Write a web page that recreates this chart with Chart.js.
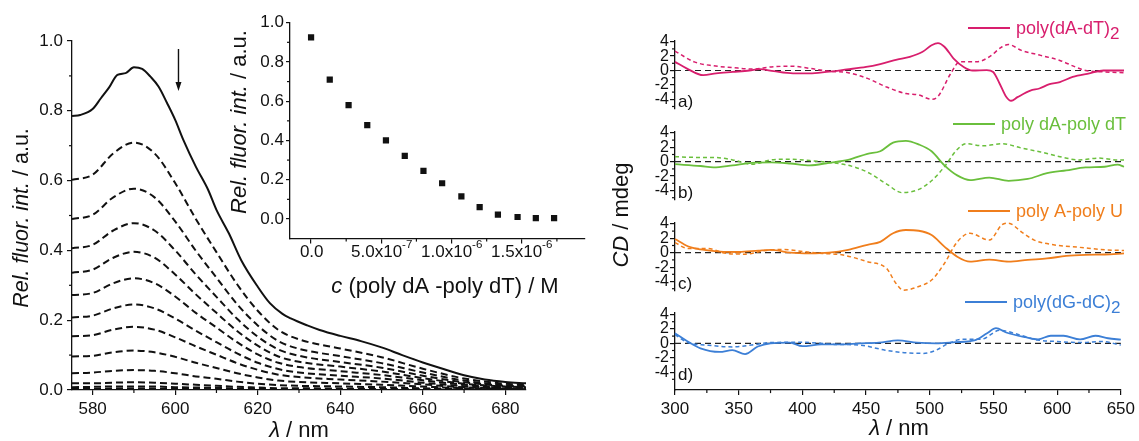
<!DOCTYPE html>
<html>
<head>
<meta charset="utf-8">
<title>Fluorescence titration and CD spectra</title>
<script src="https://cdn.jsdelivr.net/npm/chart.js@4.4.1/dist/chart.umd.min.js"></script>
<style>
    html, body {margin: 0; padding: 0; background: #fff;}
    #wrap {position: relative; width: 1139px; height: 441px; overflow: hidden;}
    #wrap canvas {position: absolute; left: 0; top: 0;}
</style>
</head>
<body>
<div id="wrap">
    <canvas id="cMain" width="1139" height="441"></canvas>
    <canvas id="cInset" width="1139" height="441"></canvas>
    <canvas id="cdA" width="1139" height="441"></canvas>
    <canvas id="cdB" width="1139" height="441"></canvas>
    <canvas id="cdC" width="1139" height="441"></canvas>
    <canvas id="cdD" width="1139" height="441"></canvas>
</div>
<script>
// MODULE'S VARS
const W = 1139, H = 441;
const FONT = '"Liberation Sans", Arial, Helvetica, sans-serif';
const INK = '#111';
const MAGENTA = '#d81e6d';
const GREEN = '#6abf3c';
const ORANGE = '#f07e1c';
const BLUE = '#3c7fd6';

// fluorescence spectra (left panel), first one is the free dye (solid)
const solidWl = [575, 577, 580, 582, 584, 586, 588, 590, 592, 594, 596, 598, 600, 602, 605, 608, 610, 613, 616, 620,
    623, 626, 628, 632, 635, 640, 645, 650, 655, 660, 665, 670, 675, 680, 685];
const solidInt = [0.785, 0.788, 0.805, 0.836, 0.867, 0.903, 0.908, 0.925, 0.92, 0.898, 0.869, 0.823, 0.774, 0.716, 0.64,
    0.573, 0.516, 0.449, 0.372, 0.296, 0.248, 0.218, 0.205, 0.185, 0.172, 0.155, 0.14, 0.122, 0.1, 0.079, 0.06, 0.042,
    0.03, 0.023, 0.019];
// titration steps (dashed)
const dashedWl = [575, 580, 585, 590, 595, 600, 605, 610, 615, 620, 625, 630, 640, 650, 660, 670, 680, 685];
const step1 = [0.602, 0.617, 0.678, 0.709, 0.678, 0.593, 0.49, 0.395, 0.303, 0.227, 0.172, 0.145, 0.119, 0.094, 0.061, 0.033, 0.018, 0.015];
const step2 = [0.490, 0.502, 0.552, 0.577, 0.552, 0.483, 0.399, 0.322, 0.246, 0.185, 0.140, 0.118, 0.097, 0.077, 0.050, 0.027, 0.014, 0.012];
const step3 = [0.406, 0.416, 0.457, 0.478, 0.457, 0.400, 0.331, 0.267, 0.204, 0.153, 0.116, 0.098, 0.080, 0.064, 0.041, 0.022, 0.012, 0.010];
const step4 = [0.336, 0.345, 0.379, 0.396, 0.379, 0.331, 0.274, 0.221, 0.169, 0.127, 0.096, 0.081, 0.067, 0.053, 0.034, 0.018, 0.010, 0.008];
const step5 = [0.272, 0.278, 0.306, 0.320, 0.306, 0.268, 0.221, 0.179, 0.137, 0.102, 0.078, 0.066, 0.054, 0.043, 0.028, 0.015, 0.008, 0.007];
const step6 = [0.208, 0.213, 0.234, 0.245, 0.234, 0.205, 0.170, 0.137, 0.105, 0.078, 0.060, 0.050, 0.041, 0.033, 0.021, 0.011, 0.006, 0.005];
const step7 = [0.154, 0.157, 0.173, 0.181, 0.173, 0.151, 0.125, 0.101, 0.077, 0.058, 0.044, 0.037, 0.030, 0.024, 0.016, 0.008, 0.005, 0.004];
const step8 = [0.096, 0.098, 0.108, 0.113, 0.108, 0.095, 0.078, 0.063, 0.048, 0.036, 0.027, 0.023, 0.019, 0.015, 0.010, 0.005, 0.003, 0.002];
const step9 = [0.048, 0.050, 0.055, 0.057, 0.055, 0.048, 0.039, 0.032, 0.024, 0.018, 0.014, 0.012, 0.010, 0.008, 0.005, 0.003, 0.001, 0.001];
const step10 = [0.019, 0.019, 0.021, 0.022, 0.021, 0.018, 0.015, 0.012, 0.009, 0.007, 0.005, 0.005, 0.004, 0.003, 0.002, 0.001, 0.001, 0.000];
const step11 = [0.008, 0.009, 0.010, 0.010, 0.010, 0.008, 0.007, 0.006, 0.004, 0.003, 0.002, 0.002, 0.002, 0.001, 0.001, 0.000, 0.000, 0.000];
const step12 = [0.003, 0.003, 0.004, 0.004, 0.004, 0.003, 0.003, 0.002, 0.002, 0.001, 0.001, 0.001, 0.001, 0.001, 0.000, 0.000, 0.000, 0.000];
const step13 = [0.002, 0.002, 0.002, 0.002, 0.002, 0.002, 0.001, 0.001, 0.001, 0.001, 0.000, 0.000, 0.000, 0.000, 0.000, 0.000, 0.000, 0.000];
const dashedSteps = [step1, step2, step3, step4, step5, step6, step7, step8, step9, step10, step11, step12, step13];

// inset: intensity at 590 nm vs polymer concentration
const concM = [0, 1.33e-7, 2.67e-7, 4.0e-7, 5.33e-7, 6.67e-7, 8.0e-7, 9.33e-7, 1.07e-6, 1.2e-6, 1.33e-6, 1.47e-6, 1.6e-6, 1.73e-6];
const relInt = [0.925, 0.71, 0.58, 0.478, 0.40, 0.322, 0.245, 0.182, 0.115, 0.06, 0.022, 0.01, 0.004, 0.004];

// CD spectra [nm, mdeg]; solid = polymer alone, dashed = with dye
const aSolid = [[300, 1.2], [309, 0.3], [322, -0.65], [332, -0.4], [345, -0.2], [358, 0], [366, 0.2], [377, -0.1], [392, -0.4],
    [405, -0.4], [418, -0.2], [434, 0.15], [449, 0.5], [460, 0.9], [473, 1.5], [483, 1.9], [493, 2.6], [500, 3.5], [505, 3.8],
    [510, 3.3], [517, 1.7], [525, 0.5], [532, 0], [543, 0.05], [548, -0.2], [553, -1.8], [558, -3.6], [562, -4.2], [567, -3.7],
    [577, -2.8], [584, -2.5], [592, -1.9], [600, -1.6], [610, -0.9], [623, -0.4], [634, 0], [642, 0], [650, 0]];
const aDashed = [[300, 2.7], [315, 1.2], [330, 0.65], [345, 0.4], [360, 0.2], [375, 0.5], [390, 0.6], [405, 0.3], [420, -0.1],
    [435, -0.3], [450, -1.1], [465, -2.3], [480, -3.2], [490, -3.4], [500, -4.0], [505, -3.6], [515, -0.4], [522, 1.2],
    [535, 1.2], [545, 1.9], [555, 3.3], [560, 3.6], [570, 2.8], [585, 2.1], [600, 1.4], [612, 0.5], [620, 0], [635, -0.2], [650, -0.3]];
const bSolid = [[300, -0.35], [320, -0.6], [330, -0.8], [345, -0.5], [360, -0.15], [375, -0.1], [390, -0.25], [405, -0.5],
    [420, -0.15], [435, 0.25], [450, 1.1], [460, 1.45], [470, 2.65], [480, 2.9], [490, 2.4], [500, 1.45], [510, -0.5],
    [520, -1.9], [530, -2.55], [545, -2.2], [560, -2.65], [575, -2.4], [590, -1.6], [605, -1.2], [620, -0.8], [635, -0.7],
    [645, -0.4], [650, -0.7]];
const bDashed = [[300, 0.7], [315, 0.6], [330, 0.6], [345, 0.25], [360, -0.35], [375, 0.25], [390, 0.35], [405, 0.15], [420, -0.1],
    [435, -0.5], [450, -1.45], [465, -3.1], [477, -4.3], [490, -3.85], [500, -2.65], [510, -0.7], [520, 1.7], [527, 2.5],
    [540, 2.2], [555, 2.5], [570, 1.9], [585, 1.35], [600, 0.7], [615, 0.25], [630, 0.5], [645, 0.25], [650, 0.25]];
const cSolid = [[300, 1.9], [310, 0.9], [320, 0.45], [335, 0.15], [350, 0.1], [365, 0.3], [375, 0.4], [390, 0], [405, -0.1],
    [420, 0], [435, 0.4], [450, 1.1], [460, 1.5], [470, 2.7], [480, 3.15], [490, 3.05], [500, 2.45], [510, 0.85], [520, -0.55],
    [530, -1.25], [545, -0.95], [560, -1.25], [575, -1.0], [590, -0.8], [605, -0.45], [620, -0.3], [635, -0.25], [650, -0.1]];
const cDashed = [[300, 1.4], [310, 0.6], [325, 0.6], [340, -0.1], [355, -0.2], [370, 0.3], [385, 0.45], [400, 0.15], [415, -0.1],
    [430, -0.3], [450, -1.25], [465, -2.2], [472, -4.2], [478, -5.2], [490, -4.7], [500, -3.8], [510, -1.5], [520, 1.5],
    [530, 2.7], [545, 1.75], [555, 3.9], [560, 4.1], [570, 2.9], [580, 1.75], [595, 1.1], [615, 0.75], [635, 0.4], [650, 0.3]];
const dSolid = [[300, 1.4], [310, 0.25], [320, -0.7], [335, -1.2], [345, -0.95], [355, -1.5], [365, -0.45], [375, 0], [390, 0.1],
    [400, -0.4], [415, -0.15], [430, -0.15], [445, 0], [460, 0.1], [475, 0.4], [490, 0.1], [505, 0], [520, 0.15], [535, 0.4],
    [545, 1.4], [552, 2.1], [560, 1.5], [575, 0.85], [585, 0.55], [595, 1.05], [605, 1.05], [618, 0.55], [630, 1.05],
    [640, 0.7], [650, 0.5]];
const dDashed = [[300, 1.2], [310, 0.1], [325, -0.25], [345, -0.5], [360, -0.25], [375, 0.1], [400, 0.15], [425, -0.15],
    [445, -0.25], [465, -0.95], [480, -1.3], [495, -1.4], [505, -0.95], [515, 0], [525, 0.55], [540, 0.55], [555, 1.8],
    [570, 1.2], [585, 0.45], [600, 0.25], [620, 0.1], [635, 0.25], [650, -0.25]];
const zeroLine = [[300, 0], [650, 0]];

// tick labels
const mainXTicks = [580, 600, 620, 640, 660, 680];
const fracTicks = [0, 0.2, 0.4, 0.6, 0.8, 1.0];
const insetXTicks = [0, 5e-7, 1e-6, 1.5e-6];
const cdXTicks = [300, 350, 400, 450, 500, 550, 600, 650];
const cdYTicks = [-4, -2, 0, 2, 4];

// MODULE'S FUNCTIONS
const pts = (xs, ys) => xs.map((x, i) => ({x, y: ys[i]}));
const pairs = (arr) => arr.map(([x, y]) => ({x, y}));
const fixTicks = (values) => (scale) => { scale.ticks = values.map((v) => ({value: v})); };
const halfSteps = (values, extra) => {
    const step = values[1] - values[0];
    return values.map((v) => v + step / 2).concat(extra || []);
};

function drawRich(ctx, it) {
    const size = it.size || 22;
    ctx.save();
    ctx.translate(it.x, it.y);
    if (it.rot) ctx.rotate(it.rot);
    ctx.textBaseline = 'middle';
    ctx.textAlign = 'left';
    const runs = it.parts.map((p) => {
        const s = p.sup ? size * 0.68 : p.sub ? size * 0.95 : size;
        const font = `${p.it ? 'italic ' : ''}${s}px ${FONT}`;
        ctx.font = font;
        const dy = p.sub ? size * 0.3 : p.sup ? -size * 0.42 : 0;
        return {text: p.t, font, dy, w: ctx.measureText(p.t).width};
    });
    const total = runs.reduce((acc, r) => acc + r.w, 0);
    let x = it.align === 'left' ? 0 : (it.align === 'right' ? -total : -total / 2);
    ctx.fillStyle = it.color || INK;
    runs.forEach((r) => {
        ctx.font = r.font;
        ctx.fillText(r.text, x, r.dy);
        x += r.w;
    });
    ctx.restore();
}

// plugin: mixed-style texts, legend samples, arrow, minor ticks
const decor = {
    id: 'decor',
    afterDraw(chart, args, opts) {
        const ctx = chart.ctx;
        const a = chart.chartArea;
        const sx = chart.scales.x, sy = chart.scales.y;
        ctx.save();
        ctx.strokeStyle = INK;
        ctx.lineWidth = 1.2;
        (opts.minorX || []).forEach((v) => {
            const px = sx.getPixelForValue(v);
            ctx.beginPath(); ctx.moveTo(px, a.bottom); ctx.lineTo(px, a.bottom + 3); ctx.stroke();
        });
        (opts.minorY || []).forEach((v) => {
            const py = sy.getPixelForValue(v);
            ctx.beginPath(); ctx.moveTo(a.left - 3, py); ctx.lineTo(a.left, py); ctx.stroke();
        });
        if (opts.arrow) {
            const px = sx.getPixelForValue(opts.arrow.x);
            const y1 = sy.getPixelForValue(opts.arrow.from), y2 = sy.getPixelForValue(opts.arrow.to);
            ctx.lineWidth = 1.4;
            ctx.beginPath(); ctx.moveTo(px, y1); ctx.lineTo(px, y2 - 6); ctx.stroke();
            ctx.fillStyle = INK;
            ctx.beginPath(); ctx.moveTo(px - 3, y2 - 9); ctx.lineTo(px + 3, y2 - 9); ctx.lineTo(px, y2); ctx.closePath(); ctx.fill();
        }
        (opts.samples || []).forEach((s) => {
            ctx.strokeStyle = s.color;
            ctx.lineWidth = 1.8;
            ctx.beginPath(); ctx.moveTo(s.x1, s.y); ctx.lineTo(s.x2, s.y); ctx.stroke();
        });
        ctx.restore();
        (opts.texts || []).forEach((it) => drawRich(ctx, it));
    }
};

const axisBase = {
    border: {display: true, color: INK, width: 1.3},
    grid: {display: true, drawOnChartArea: false, drawTicks: true, tickLength: 5, color: INK, lineWidth: 1.2},
};

const baseOptions = {
    responsive: false,
    animation: false,
    events: [],
    parsing: true,
};

// MAIN FUNCTIONALITY
Chart.register(decor);

// left panel: emission spectra
(function () {
    const area = {left: 72, right: 526, top: 41, bottom: 390};
    const yW = 45, xH = 30;
    const datasets = [{
        data: pts(solidWl, solidInt), borderColor: INK, borderWidth: 2, pointRadius: 0,
        cubicInterpolationMode: 'monotone',
    }];
    dashedSteps.forEach((ys) => datasets.push({
        data: pts(dashedWl, ys), borderColor: INK, borderWidth: 2, borderDash: [7, 4], pointRadius: 0,
        cubicInterpolationMode: 'monotone',
    }));
    new Chart(document.getElementById('cMain'), {
        type: 'line',
        data: {datasets},
        options: {
            ...baseOptions,
            layout: {padding: {left: area.left - yW, right: W - area.right, top: area.top, bottom: H - area.bottom - xH}},
            scales: {
                x: {
                    ...axisBase, type: 'linear', min: 575, max: 685,
                    afterBuildTicks: fixTicks(mainXTicks),
                    afterFit: (s) => { s.height = xH; },
                    ticks: {color: INK, font: {family: FONT, size: 17}, padding: 4, autoSkip: false, maxRotation: 0},
                },
                y: {
                    ...axisBase, min: 0, max: 1.0,
                    afterBuildTicks: fixTicks(fracTicks),
                    afterFit: (s) => { s.width = yW; },
                    ticks: {color: INK, font: {family: FONT, size: 17}, padding: 4, autoSkip: false,
                        callback: (v) => v.toFixed(1)},
                },
            },
            plugins: {
                legend: {display: false},
                tooltip: {enabled: false},
                decor: {
                    minorX: halfSteps(mainXTicks).filter((v) => v < 685),
                    minorY: halfSteps(fracTicks).filter((v) => v < 1),
                    arrow: {x: 600.8, from: 0.977, to: 0.857},
                    texts: [
                        {x: 22, y: 218, size: 21.5, rot: -Math.PI / 2,
                            parts: [{t: 'Rel. fluor. int.', it: true}, {t: ' / a.u.'}]},
                        {x: 299, y: 431, parts: [{t: 'λ', it: true}, {t: ' / nm'}]},
                    ],
                },
            },
        },
    });
})();

// inset: intensity vs concentration
(function () {
    const area = {left: 290, right: 585, top: 22.7, bottom: 238.6};
    const yW = 45, xH = 30;
    const sciParts = (v) => {
        if (v === 0) return [{t: '0.0'}];
        const e = Math.floor(Math.log10(v) + 1e-9);
        return [{t: `${(v / Math.pow(10, e)).toFixed(1)}x10`}, {t: `${e}`, sup: true}];
    };
    new Chart(document.getElementById('cInset'), {
        type: 'scatter',
        data: {
            datasets: [{
                data: pts(concM, relInt), backgroundColor: INK, borderColor: INK, borderWidth: 0,
                pointStyle: 'rect', pointRadius: 4.4,
            }],
        },
        options: {
            ...baseOptions,
            layout: {padding: {left: area.left - yW, right: W - area.right, top: area.top, bottom: H - area.bottom - xH}},
            scales: {
                x: {
                    ...axisBase, type: 'linear', min: -1.5e-7, max: 1.95e-6,
                    afterBuildTicks: fixTicks(insetXTicks),
                    afterFit: (s) => { s.height = xH; },
                    ticks: {display: false},
                },
                y: {
                    ...axisBase, min: -0.1, max: 1.0,
                    grid: {...axisBase.grid, tickLength: 4},
                    afterBuildTicks: fixTicks(fracTicks),
                    afterFit: (s) => { s.width = yW; },
                    ticks: {color: INK, font: {family: FONT, size: 17}, padding: 2, autoSkip: false,
                        callback: (v) => v.toFixed(1)},
                },
            },
            plugins: {
                legend: {display: false},
                tooltip: {enabled: false},
                decor: {
                    minorX: halfSteps(insetXTicks, [-2.5e-7]).filter((v) => v > -1.5e-7 && v < 1.95e-6),
                    minorY: halfSteps(fracTicks).filter((v) => v < 1),
                    texts: [
                        {x: 240, y: 122, rot: -Math.PI / 2, parts: [{t: 'Rel. fluor. int.', it: true}, {t: ' / a.u.'}]},
                        {x: 445, y: 287, parts: [{t: 'c', it: true}, {t: ' (poly dA -poly dT) / M'}]},
                    ].concat(insetXTicks.map((v) => ({
                        x: 311.7 + v / 1e-6 * 140, y: 252, size: 17, parts: sciParts(v),
                    }))),
                },
            },
        },
    });
})();

// right panel: four stacked CD spectra
const CD_LEFT = 675, CD_RIGHT = 1124, CD_PPU = 7.2, CD_MAX = 4.2;
const cdPanels = [
    {id: 'cdA', solid: aSolid, dashed: aDashed, color: MAGENTA, y0: 70.5, min: -5.3, tag: 'a)',
        legend: [{t: 'poly(dA-dT)'}, {t: '2', sub: true}], lx: 968, ly: 28},
    {id: 'cdB', solid: bSolid, dashed: bDashed, color: GREEN, y0: 161.7, min: -5.3, tag: 'b)',
        legend: [{t: 'poly dA-poly dT'}], lx: 953, ly: 124},
    {id: 'cdC', solid: cSolid, dashed: cDashed, color: ORANGE, y0: 252.7, min: -5.3, tag: 'c)',
        legend: [{t: 'poly A-poly U'}], lx: 968, ly: 211},
    {id: 'cdD', solid: dSolid, dashed: dDashed, color: BLUE, y0: 343.3, min: -6.5, tag: 'd)',
        legend: [{t: 'poly(dG-dC)'}, {t: '2', sub: true}], lx: 965, ly: 302, xAxis: true},
];

cdPanels.forEach((p) => {
    const top = p.y0 - CD_MAX * CD_PPU;
    const bottom = p.y0 - p.min * CD_PPU;
    const yW = 40, xH = p.xAxis ? 30 : 0;
    const texts = [
        {x: CD_LEFT + 3, y: p.y0 + 32, size: 17, align: 'left', parts: [{t: p.tag}]},
        {x: p.lx + 48, y: p.ly + 1, size: 18, align: 'left', color: p.color, parts: p.legend},
    ];
    if (p.xAxis) {
        texts.push({x: 899, y: 429, parts: [{t: 'λ', it: true}, {t: ' / nm'}]});
        texts.push({x: 622, y: 215, rot: -Math.PI / 2, parts: [{t: 'CD', it: true}, {t: ' / mdeg'}]});
    }
    new Chart(document.getElementById(p.id), {
        type: 'line',
        data: {
            datasets: [
                {data: pairs(p.solid), borderColor: p.color, borderWidth: 1.8, pointRadius: 0, cubicInterpolationMode: 'monotone'},
                {data: pairs(p.dashed), borderColor: p.color, borderWidth: 1.5, borderDash: [4, 3], pointRadius: 0,
                    cubicInterpolationMode: 'monotone'},
                {data: pairs(zeroLine), borderColor: '#222', borderWidth: 1.2, borderDash: [6, 4], pointRadius: 0},
            ],
        },
        options: {
            ...baseOptions,
            clip: false,
            layout: {padding: {left: CD_LEFT - yW, right: W - CD_RIGHT, top, bottom: H - bottom - xH}},
            scales: {
                x: {
                    ...axisBase, type: 'linear', min: 300, max: 650, display: !!p.xAxis,
                    afterBuildTicks: fixTicks(cdXTicks),
                    afterFit: (s) => { s.height = xH; },
                    ticks: {color: INK, font: {family: FONT, size: 17}, padding: 4, autoSkip: false, maxRotation: 0},
                },
                y: {
                    ...axisBase, min: p.min, max: CD_MAX,
                    afterBuildTicks: fixTicks(cdYTicks),
                    afterFit: (s) => { s.width = yW; },
                    ticks: {color: INK, font: {family: FONT, size: 16, lineHeight: 1}, padding: 1, autoSkip: false},
                },
            },
            plugins: {
                legend: {display: false},
                tooltip: {enabled: false},
                decor: {
                    minorX: p.xAxis ? halfSteps(cdXTicks).filter((v) => v < 650) : [],
                    minorY: halfSteps(cdYTicks, [-5]).filter((v) => v < CD_MAX && v > p.min),
                    samples: [{x1: p.lx, x2: p.lx + 42, y: p.ly, color: p.color}],
                    texts,
                },
            },
        },
    });
});
</script>
</body>
</html>
